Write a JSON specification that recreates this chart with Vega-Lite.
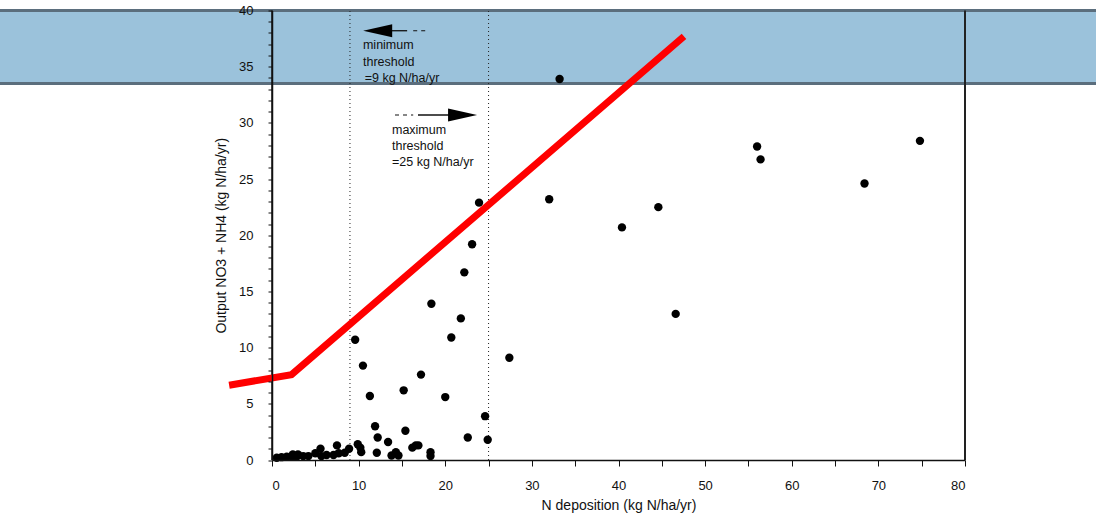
{
  "$schema": "https://vega.github.io/schema/vega-lite/v6.json",
  "autosize": "none",
  "width": 693,
  "height": 449.5,
  "padding": {"left": 272, "top": 10.5, "right": 131, "bottom": 59},
  "background": "white",
  "config": {
    "view": {"stroke": null},
    "font": "Liberation Sans",
    "axis": {"labelFont": "Liberation Sans", "titleFont": "Liberation Sans", "labelColor": "#111", "titleColor": "#111", "domainColor": "#111", "tickColor": "#111", "grid": false, "labelFontSize": 13, "titleFontSize": 14, "titleFontWeight": "normal", "zindex": 1, "labelOverlap": false}
  },
  "datasets": {
    "points": [
      {"x": 9.6, "y": 10.7}, {"x": 10.5, "y": 8.4}, {"x": 11.3, "y": 5.7}, {"x": 11.9, "y": 3.0},
      {"x": 12.2, "y": 2.0}, {"x": 13.4, "y": 1.6}, {"x": 15.2, "y": 6.2}, {"x": 15.4, "y": 2.6},
      {"x": 17.2, "y": 7.6}, {"x": 18.4, "y": 13.9}, {"x": 20.0, "y": 5.6}, {"x": 20.7, "y": 10.9},
      {"x": 21.8, "y": 12.6}, {"x": 22.2, "y": 16.7}, {"x": 22.6, "y": 2.0}, {"x": 23.1, "y": 19.2},
      {"x": 23.9, "y": 22.9}, {"x": 24.6, "y": 3.9}, {"x": 24.9, "y": 1.8}, {"x": 27.4, "y": 9.1},
      {"x": 32.0, "y": 23.2}, {"x": 33.2, "y": 33.9}, {"x": 40.4, "y": 20.7}, {"x": 44.6, "y": 22.5},
      {"x": 46.6, "y": 13.0}, {"x": 56.0, "y": 27.9}, {"x": 56.4, "y": 26.75}, {"x": 68.4, "y": 24.6},
      {"x": 74.8, "y": 28.4},
      {"x": 0.55, "y": 0.2}, {"x": 1.1, "y": 0.25}, {"x": 1.7, "y": 0.3}, {"x": 2.3, "y": 0.3},
      {"x": 2.85, "y": 0.3}, {"x": 2.4, "y": 0.5}, {"x": 3.0, "y": 0.5}, {"x": 3.6, "y": 0.35},
      {"x": 4.2, "y": 0.35}, {"x": 5.0, "y": 0.6}, {"x": 5.7, "y": 0.35}, {"x": 5.6, "y": 1.0},
      {"x": 6.3, "y": 0.45}, {"x": 7.1, "y": 0.45}, {"x": 7.5, "y": 1.3}, {"x": 7.7, "y": 0.6},
      {"x": 8.4, "y": 0.65}, {"x": 8.9, "y": 1.0}, {"x": 9.9, "y": 1.4}, {"x": 10.2, "y": 1.1},
      {"x": 10.3, "y": 0.7}, {"x": 12.1, "y": 0.65}, {"x": 13.8, "y": 0.4}, {"x": 14.3, "y": 0.7},
      {"x": 14.6, "y": 0.4}, {"x": 16.2, "y": 1.1}, {"x": 16.6, "y": 1.3}, {"x": 16.9, "y": 1.3},
      {"x": 18.3, "y": 0.7}, {"x": 18.3, "y": 0.35}
    ],
    "band": [{"x": -36, "x2": 100, "y": 33.5, "y2": 40}],
    "thresholds": [{"x": 9}, {"x": 25}],
    "frame": [{"x": 80}],
    "yaxisline": [{"x": 0}],
    "redline": [
      {"order": 1, "x": -4.95, "y": 6.65},
      {"order": 2, "x": 2.25, "y": 7.6},
      {"order": 3, "x": 47.56, "y": 37.7}
    ],
    "labels": [
      {"x": 10.5, "y": 36.9, "text": "minimum"},
      {"x": 10.5, "y": 35.45, "text": "threshold"},
      {"x": 10.7, "y": 34.0, "text": "=9 kg N/ha/yr"},
      {"x": 13.85, "y": 29.4, "text": "maximum"},
      {"x": 13.85, "y": 27.95, "text": "threshold"},
      {"x": 13.85, "y": 26.5, "text": "=25 kg N/ha/yr"}
    ],
    "shaftSolid": [
      {"x": 13.6, "x2": 15.6, "y": 38.2},
      {"x": 16.85, "x2": 21.0, "y": 30.7}
    ],
    "shaftDash": [
      {"x": 16.3, "x2": 17.9, "y": 38.2},
      {"x": 14.2, "x2": 16.3, "y": 30.7}
    ],
    "headLeft": [{"x": 12.2, "y": 38.2}],
    "headRight": [{"x": 22.0, "y": 30.7}]
  },
  "layer": [
    {
      "data": {"name": "band"},
      "mark": {"type": "rect", "fill": "#9bc2db", "stroke": "#5b6e7d", "strokeWidth": 3, "clip": false},
      "encoding": {
        "x": {"field": "x", "type": "quantitative", "scale": {"domain": [0, 80], "nice": false, "zero": false},
          "axis": {"values": [0,5,10,15,20,25,30,35,40,45,50,55,60,65,70,75,80], "tickCount": 17, "labelExpr": "datum.value % 10 === 0 ? datum.label : ''", "labelOverlap": false, "tickSize": 6, "labelPadding": 13, "title": "N deposition (kg N/ha/yr)", "titlePadding": 6, "domainWidth": 1.5, "zindex": 1}},
        "x2": {"field": "x2"},
        "y": {"field": "y", "type": "quantitative", "scale": {"domain": [0, 40], "nice": false},
          "axis": {"values": [0,1,2,3,4,5,6,7,8,9,10,11,12,13,14,15,16,17,18,19,20,21,22,23,24,25,26,27,28,29,30,31,32,33,34,35,36,37,38,39,40], "tickCount": 41, "labelExpr": "datum.value % 5 === 0 ? datum.label : ''", "labelOverlap": false, "tickSize": 4, "labelPadding": 15, "title": "Output NO3 + NH4 (kg N/ha/yr)", "titlePadding": 10, "domainWidth": 1.5, "zindex": 1}},
        "y2": {"field": "y2"}
      }
    },
    {
      "data": {"name": "yaxisline"},
      "mark": {"type": "rule", "color": "#111", "strokeWidth": 1.5},
      "encoding": {"x": {"field": "x", "type": "quantitative"}, "y": {"datum": 0}, "y2": {"datum": 40}}
    },
    {
      "data": {"name": "thresholds"},
      "mark": {"type": "rule", "color": "#222", "strokeWidth": 1, "strokeDash": [1, 3]},
      "encoding": {"x": {"field": "x", "type": "quantitative"}, "y": {"datum": 0}, "y2": {"datum": 40}}
    },
    {
      "data": {"name": "frame"},
      "mark": {"type": "rule", "color": "#222", "strokeWidth": 2},
      "encoding": {"x": {"field": "x", "type": "quantitative"}, "y": {"datum": 0}, "y2": {"datum": 40}}
    },
    {
      "data": {"name": "shaftSolid"},
      "mark": {"type": "rule", "color": "#111", "strokeWidth": 1.3},
      "encoding": {"x": {"field": "x", "type": "quantitative"}, "x2": {"field": "x2"}, "y": {"field": "y", "type": "quantitative"}}
    },
    {
      "data": {"name": "shaftDash"},
      "mark": {"type": "rule", "color": "#111", "strokeWidth": 1.2, "strokeDash": [4, 4]},
      "encoding": {"x": {"field": "x", "type": "quantitative"}, "x2": {"field": "x2"}, "y": {"field": "y", "type": "quantitative"}}
    },
    {
      "data": {"name": "headLeft"},
      "mark": {"type": "point", "shape": "M-1,0L1,-0.45L1,0.45Z", "filled": true, "color": "#000", "size": 841, "opacity": 1},
      "encoding": {"x": {"field": "x", "type": "quantitative"}, "y": {"field": "y", "type": "quantitative"}}
    },
    {
      "data": {"name": "headRight"},
      "mark": {"type": "point", "shape": "M1,0L-1,-0.45L-1,0.45Z", "filled": true, "color": "#000", "size": 841, "opacity": 1},
      "encoding": {"x": {"field": "x", "type": "quantitative"}, "y": {"field": "y", "type": "quantitative"}}
    },
    {
      "data": {"name": "labels"},
      "mark": {"type": "text", "align": "left", "baseline": "middle", "fontSize": 12.5, "font": "Liberation Sans", "color": "#111"},
      "encoding": {"x": {"field": "x", "type": "quantitative"}, "y": {"field": "y", "type": "quantitative"}, "text": {"field": "text"}}
    },
    {
      "data": {"name": "points"},
      "mark": {"type": "point", "shape": "circle", "filled": true, "color": "#000", "size": 70, "opacity": 1},
      "encoding": {"x": {"field": "x", "type": "quantitative"}, "y": {"field": "y", "type": "quantitative"}}
    },
    {
      "data": {"name": "redline"},
      "mark": {"type": "line", "color": "#ff0000", "strokeWidth": 7, "clip": false, "strokeCap": "butt", "strokeJoin": "miter"},
      "encoding": {"x": {"field": "x", "type": "quantitative"}, "y": {"field": "y", "type": "quantitative"}, "order": {"field": "order"}}
    }
  ]
}
